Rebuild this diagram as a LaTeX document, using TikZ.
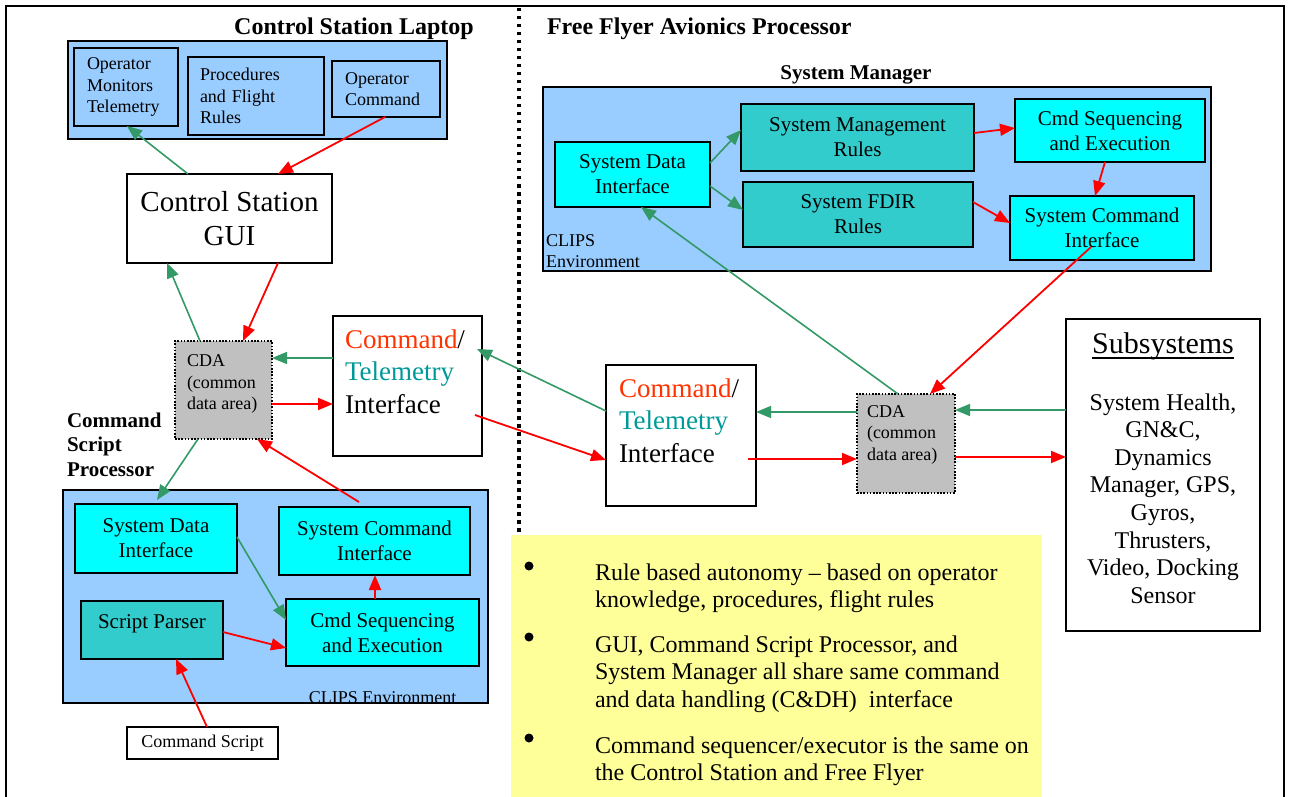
\documentclass[tikz,border=0pt]{standalone}
\usepackage{fontspec}
\setmainfont{Liberation Serif}
\usetikzlibrary{arrows.meta,calc}
\definecolor{lblue}{HTML}{99CCFF}
\definecolor{cyanb}{HTML}{00FFFF}
\definecolor{tealb}{HTML}{33CCCC}
\definecolor{grayb}{HTML}{C0C0C0}
\definecolor{yel}{HTML}{FFFF99}
\definecolor{garrow}{HTML}{339966}
\definecolor{rarrow}{HTML}{FF0000}
\definecolor{cmdorange}{HTML}{FF3300}
\definecolor{telteal}{HTML}{009999}
\newcommand{\myfs}[2]{\fontsize{#1}{#2}\selectfont}
\begin{document}
\begin{tikzpicture}[x=1pt,y=-1pt,
  bx/.style={draw=black, line width=2pt, inner sep=0pt, outer sep=0pt},
  panel/.style={bx, fill=lblue},
  cyb/.style={bx, fill=cyanb, font=\myfs{21}{25}, align=center},
  tlb/.style={bx, fill=tealb, font=\myfs{21}{25}, align=center},
  wb/.style={bx, fill=white},
  cda/.style={draw=black, fill=grayb, line width=1.6pt, dash pattern=on 1.6pt off 1.6pt, inner sep=0pt, outer sep=0pt},
  txt/.style={inner sep=0pt, outer sep=0pt},
  arr/.style={line width=1.6pt, -{Triangle[length=15pt,width=12pt]}},
  garr/.style={arr, draw=garrow},
  rarr/.style={arr, draw=rarrow, line width=1.8pt},
  bul/.style={circle, fill=black, inner sep=0pt, minimum size=9pt}
]
\useasboundingbox (0,0) rectangle (1291,797);
% outer frame and divider
\draw[line width=2pt] (6,800) -- (6,6) -- (1284,6) -- (1284,800);
\draw[line width=3.5pt, dash pattern=on 3.5pt off 4.5pt] (519,8) -- (519,533);

% titles
\node[txt, anchor=base, font=\bfseries\myfs{24}{28}] (tlap) at (354,35) {Control Station Laptop};
\node[txt, anchor=base west, font=\bfseries\myfs{24}{28}] (tff) at (547,35) {Free Flyer Avionics Processor};

% laptop panel
\node[panel, minimum width=379, minimum height=98] (lap) at (257.5,90) {};
\node[panel, minimum width=104, minimum height=78, text width=78, inner xsep=13, align=left, font=\myfs{18}{21.7}] (mon) at (126,87) {Operator\\Monitors\\Telemetry};
\node[panel, minimum width=136, minimum height=78, text width=112, inner xsep=12, align=left, font=\myfs{18}{21.7}] (proc) at (256,96) {Procedures\\and Flight\\Rules};
\node[panel, minimum width=108, minimum height=56, text width=82, inner xsep=13, align=left, font=\myfs{18}{21.7}] (opc) at (386,89) {Operator\\Command};

% GUI
\node[wb, minimum width=205, minimum height=89, align=center, font=\myfs{29}{34}] (gui) at (229.5,218.5) {Control Station\\GUI};

% CDA left
\node[cda, minimum width=97, minimum height=98] (cdaL) at (223.5,390) {};
\node[txt, anchor=base west, align=left, font=\myfs{18}{21.5}] (cdaLt) at (187,409.5) {CDA\\(common\\data area)};

% Command/Telemetry left
\node[wb, minimum width=149, minimum height=140] (ctL) at (407.5,386) {};
\node[txt, anchor=base west, align=left, font=\myfs{27}{32.5}] (ctLt) at (345,413) {\textcolor{cmdorange}{Command}/\\\textcolor{telteal}{Telemetry}\\Interface};

% Command Script Processor
\node[txt, anchor=base west, align=left, font=\bfseries\myfs{21}{24.5}] (csplbl) at (67,476) {Command\\Script\\Processor};
\node[panel, minimum width=425, minimum height=213] (csp) at (275.5,596.5) {};
\node[cyb, minimum width=162, minimum height=69] (sdiC) at (156,538.5) {System Data\\Interface};
\node[cyb, minimum width=191, minimum height=68] (sciC) at (374.5,541) {System Command\\Interface};
\node[tlb, minimum width=142, minimum height=58] (sp) at (152,630) {};
\node[txt, anchor=base, font=\myfs{21}{25}] (spT) at (152,628) {Script Parser};
\node[cyb, minimum width=193, minimum height=67] (csC) at (382.5,632.5) {Cmd Sequencing\\and Execution};
\node[txt, anchor=base, font=\myfs{18}{21}] (clipsC) at (382.5,703) {CLIPS Environment};
\node[wb, minimum width=151, minimum height=32, font=\myfs{18}{21}] (cs) at (202.5,743) {Command Script};

% System Manager
\node[txt, anchor=base, font=\bfseries\myfs{21}{25}] (smT) at (856,80) {System Manager};
\node[panel, minimum width=668, minimum height=184] (sm) at (877,179) {};
\node[cyb, minimum width=155, minimum height=65] (sdiS) at (632.5,174.5) {System Data\\Interface};
\node[tlb, minimum width=233, minimum height=67] (smr) at (857.5,137.5) {System Management\\Rules};
\node[tlb, minimum width=230, minimum height=65] (fdir) at (858,214.5) {System FDIR\\Rules};
\node[cyb, minimum width=190, minimum height=63] (csS) at (1110,130.5) {Cmd Sequencing\\and Execution};
\node[cyb, minimum width=184, minimum height=64] (sciS) at (1102,228) {System Command\\Interface};
\node[txt, anchor=base west, align=left, font=\myfs{18}{20.5}] (clipsS) at (546,267) {CLIPS\\Environment};

% Command/Telemetry right
\node[wb, minimum width=150, minimum height=141] (ctR) at (681,435.5) {};
\node[txt, anchor=base west, align=left, font=\myfs{27}{32.5}] (ctRt) at (619,462) {\textcolor{cmdorange}{Command}/\\\textcolor{telteal}{Telemetry}\\Interface};

% CDA right
\node[cda, minimum width=98, minimum height=99] (cdaR) at (906,443.5) {};
\node[txt, anchor=base west, align=left, font=\myfs{18}{21.5}] (cdaRt) at (867,460) {CDA\\(common\\data area)};

% Subsystems
\node[wb, minimum width=194, minimum height=312] (sub) at (1163,475) {};
\node[txt, anchor=base, font=\myfs{30}{34}] (subT) at (1163,353) {Subsystems};
\draw[line width=1.5pt] ($(subT.base west)+(0,5)$) -- ($(subT.base east)+(0,5)$);
\node[txt, anchor=base, align=center, font=\myfs{24}{27.6}] (subB) at (1163,603.2) {System Health,\\GN\&C,\\Dynamics\\Manager, GPS,\\Gyros,\\Thrusters,\\Video, Docking\\Sensor};

% notes
\node[fill=yel, inner sep=0pt, minimum width=531, minimum height=270, anchor=north west] (notes) at (511,535) {};
\node[bul] (b1) at (529,566) {};
\node[bul] (b2) at (529,637) {};
\node[bul] (b3) at (529,738) {};
\node[txt, anchor=base west, align=left, font=\myfs{24}{27.3}] (n1) at (595,607.3) {Rule based autonomy -- based on operator\\knowledge, procedures, flight rules};
\node[txt, anchor=base west, align=left, font=\myfs{24}{27.3}] (n2) at (595,707.1) {GUI, Command Script Processor, and\\System Manager all share same command\\and data handling (C\&DH)~ interface};
\node[txt, anchor=base west, align=left, font=\myfs{24}{27.3}] (n3) at (595,780.3) {Command sequencer/executor is the same on\\the Control Station and Free Flyer};

% connectors - left side
\draw[garr] ($(gui.north west)+(61,0)$) -- ($(mon.south west)+(53,0)$);
\draw[rarr] ($(opc.south west)+(53,0)$) -- ($(gui.north west)+(151,0)$);
\draw[garr] ($(cdaL.north west)+(25,0)$) -- ($(gui.south west)+(40,0)$);
\draw[rarr] ($(gui.south west)+(151,0)$) -- ($(cdaL.north west)+(68,0)$);
\draw[garr] ($(ctL.north west)+(0,42)$) -- ($(cdaL.north east)+(0,17)$);
\draw[rarr] ($(cdaL.north east)+(0,63)$) -- ($(ctL.north west)+(0,88)$);
\draw[garr] ($(cdaL.south west)+(23,0)$) -- ($(sdiC.north west)+(82,-4)$);
\draw[garr] ($(sdiC.north east)+(0,33)$) -- ($(csC.north west)+(0,21)$);
\draw[rarr] ($(sp.north east)+(0,31)$) -- ($(csC.north west)+(0,49)$);
\draw[rarr] ($(csC.north west)+(89,0)$) -- ($(sciC.south west)+(96,0)$);
\draw[rarr] ($(sciC.north west)+(80,-5)$) -- ($(cdaL.south west)+(82,0)$);
\draw[rarr] ($(cs.north west)+(80,0)$) -- ($(sp.south west)+(95,0)$);
% middle
\draw[garr] ($(ctR.north west)+(0,46)$) -- ($(ctL.north east)+(-5,33)$);
\draw[rarr] ($(ctL.north east)+(-7,99)$) -- ($(ctR.north west)+(0,95)$);
\draw[garr] ($(cdaR.north west)+(0,18)$) -- ($(ctR.north east)+(0,47)$);
\draw[rarr] ($(ctR.north east)+(-8,94)$) -- ($(cdaR.north west)+(0,65)$);
\draw[garr] ($(sub.north west)+(0,91)$) -- ($(cdaR.north east)+(0,16)$);
\draw[rarr] ($(cdaR.north east)+(0,63)$) -- ($(sub.north west)+(0,138)$);
\draw[garr] ($(cdaR.north west)+(41,0)$) -- ($(sdiS.south west)+(86,0)$);
\draw[rarr] ($(sciS.south west)+(81,-13)$) -- ($(cdaR.north west)+(73,0)$);
% system manager
\draw[garr] ($(sdiS.north east)+(0,21)$) -- ($(smr.north west)+(0,26)$);
\draw[garr] ($(sdiS.north east)+(0,44)$) -- ($(fdir.north west)+(0,28)$);
\draw[rarr] ($(smr.north east)+(0,29)$) -- ($(csS.north west)+(0,29)$);
\draw[rarr] ($(fdir.north east)+(0,20)$) -- ($(sciS.north west)+(0,27)$);
\draw[rarr] ($(csS.south west)+(90,0)$) -- ($(sciS.north west)+(85,0)$);
\end{tikzpicture}
\end{document}
